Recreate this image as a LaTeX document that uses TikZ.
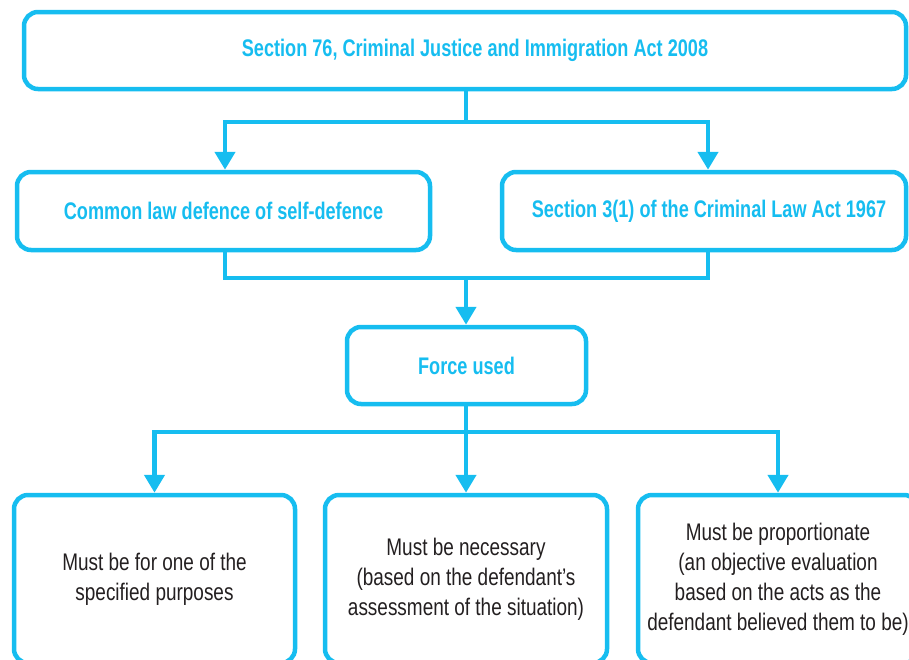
\documentclass[tikz,border=0pt]{standalone}
\usepackage{fontspec}
\setmainfont{Liberation Sans}[FakeStretch=0.79, BoldFeatures={FakeStretch=0.755}]
\usetikzlibrary{arrows.meta}
\definecolor{cyanline}{RGB}{22,189,240}
\definecolor{bodytext}{RGB}{35,31,32}
\begin{document}
\begin{tikzpicture}[x=1pt,y=-1pt,
  box/.style={draw=cyanline, line width=4.5pt, rounded corners=14pt, align=center, inner sep=0pt},
  head/.style={box, text=cyanline, font=\fontsize{24}{30}\selectfont\bfseries},
  body/.style={box, text=bodytext, font=\fontsize{24}{30}\selectfont},
  conn/.style={draw=cyanline, line width=4.5pt},
  arr/.style={conn, -{Triangle[width=20pt,length=18pt]}}]
\useasboundingbox (0,0) rectangle (909,659);
\clip (0,0) rectangle (909,659);

\node[head, minimum width=882pt, minimum height=77pt] (top) at (465,50.5)
  {\hspace*{20pt}Section 76, Criminal Justice and Immigration Act 2008};
\node[head, minimum width=413pt, minimum height=78pt] (b2) at (223.5,211)
  {Common law defence of self-defence};
\node[head, minimum width=404pt, minimum height=78pt] (b3) at (704,211)
  {\hspace*{10pt}Section 3(1) of the Criminal Law Act 1967};
\node[head, minimum width=239pt, minimum height=77pt] (force) at (466.5,365.5)
  {Force used};
\node[body, minimum width=281pt, minimum height=168pt] (m1) at (154.5,579)
  {Must be for one of the\\specified purposes};
\node[body, minimum width=282pt, minimum height=168pt] (m2) at (466,579)
  {Must be necessary\\(based on the defendant’s\\assessment of the situation)};
\node[body, minimum width=280pt, minimum height=168pt] (m3) at (778,579)
  {Must be proportionate\\(an objective evaluation\\based on the acts as the\\defendant believed them to be)};

\coordinate (j1) at (466,122);
\coordinate (j2) at (466,278);
\coordinate (j3) at (466,432);

\draw[conn] (top.south -| j1) -- (j1);
\draw[arr] (j1) -| ([xshift=1.5pt]b2.north);
\draw[arr] (j1) -| ([xshift=4pt]b3.north);

\draw[conn] ([xshift=1.5pt]b2.south) |- (j2);
\draw[conn] ([xshift=4pt]b3.south) |- (j2);
\draw[arr] (j2) -- (force.north -| j2);

\draw[conn] (force.south -| j3) -- (j3);
\draw[arr] (j3) -| (m1.north);
\draw[arr] (j3) -- (m2.north);
\draw[arr] (j3) -| (m3.north);
\end{tikzpicture}
\end{document}
